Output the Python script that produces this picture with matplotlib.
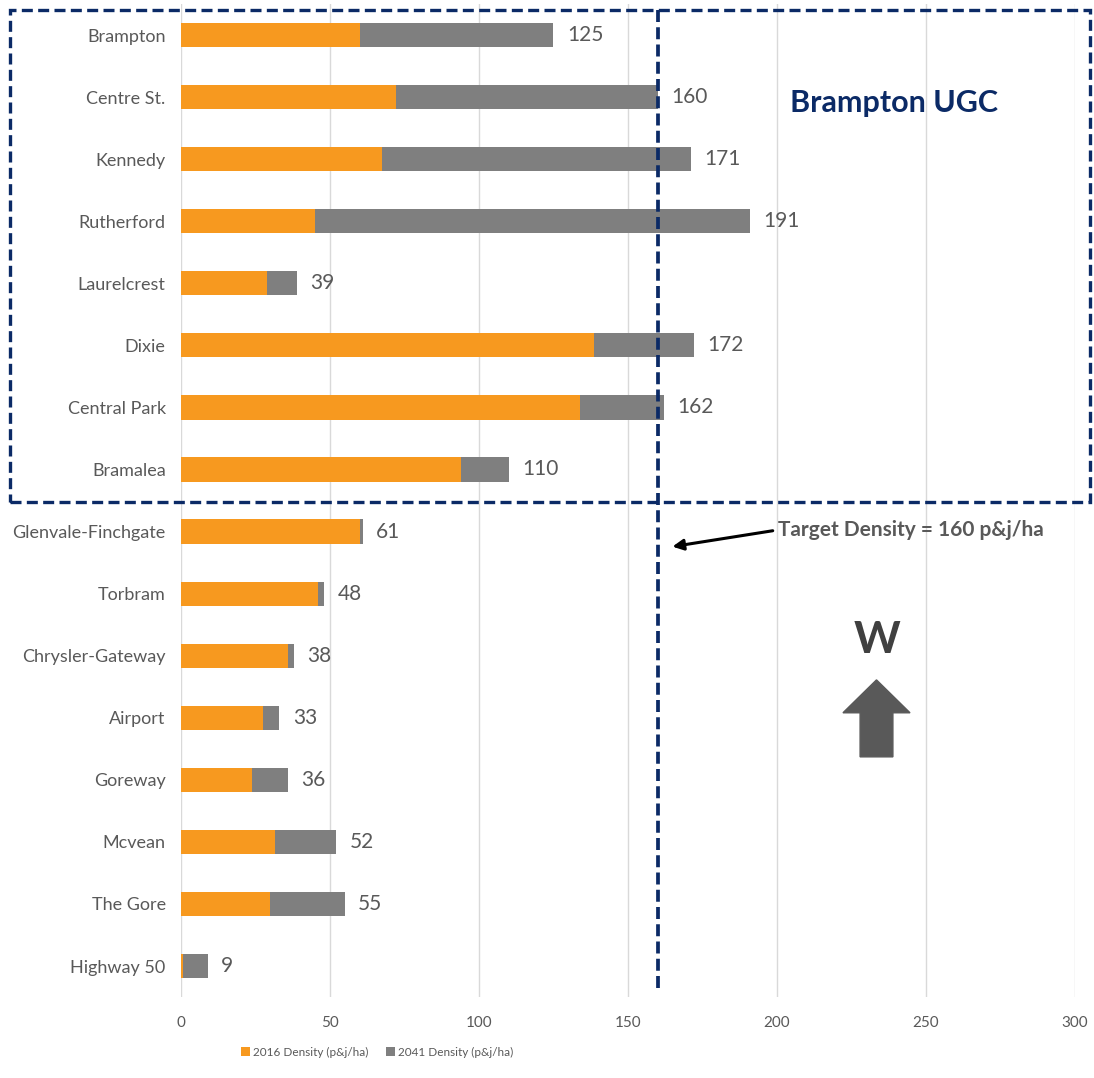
import matplotlib
matplotlib.use("Agg")
import matplotlib.pyplot as plt
import matplotlib.patches as mpatches

# station densities (people & jobs per hectare)
stations = ["Brampton", "Centre St.", "Kennedy", "Rutherford", "Laurelcrest", "Dixie",
            "Central Park", "Bramalea", "Glenvale-Finchgate", "Torbram", "Chrysler-Gateway",
            "Airport", "Goreway", "Mcvean", "The Gore", "Highway 50"]
density_2016 = [60, 72, 67.5, 45, 29, 138.5, 134, 94, 60, 46, 36, 27.5, 24, 31.5, 30, 0.7]
density_2041 = [125, 160, 171, 191, 39, 172, 162, 110, 61, 48, 38, 33, 36, 52, 55, 9]
target = 160

ORANGE = "#F7991F"
GREY = "#7F7F7F"
NAVY = "#0B2A66"
TXT = "#595959"

plt.rcParams["font.family"] = ["Lato", "DejaVu Sans"]

fig = plt.figure(figsize=(10.94, 10.78), dpi=100)
ax = fig.add_axes([0.1654, 0.0751, 0.8172, 0.9212])

ypos = list(range(len(stations)))
ax.barh(ypos, density_2041, height=0.39, color=GREY, zorder=2, label="2041 Density (p&j/ha)")
ax.barh(ypos, density_2016, height=0.39, color=ORANGE, zorder=3, label="2016 Density (p&j/ha)")

for y, v in zip(ypos, density_2041):
    ax.text(v + 4.5, y, f"{v:g}", va="center", ha="left", fontsize=15, color=TXT)

ax.set_xlim(0, 300)
ax.set_ylim(len(stations) - 0.5, -0.5)
ax.set_xticks(range(0, 301, 50))
ax.set_yticks(ypos)
ax.set_yticklabels(stations)
ax.tick_params(axis="both", length=0, colors=TXT)
ax.tick_params(axis="y", pad=11, labelsize=13)
ax.tick_params(axis="x", pad=14, labelsize=11)
ax.grid(axis="x", color="#D9D9D9", linewidth=1, zorder=0)
for s in ax.spines.values():
    s.set_visible(False)

# target density line
ax.axvline(target, ymin=0.009, ymax=0.994, color=NAVY, linewidth=2.7,
           dashes=(3.2, 1.4), zorder=5, clip_on=False)

# UGC box
box = mpatches.Rectangle((0.0091, 0.5343), 0.987, 0.4564, transform=fig.transFigure,
                         fill=False, edgecolor=NAVY, linewidth=2.4, linestyle=(0, (3.3, 1.6)),
                         clip_on=False, zorder=6)
fig.patches.append(box)

ax.text(204.5, 1.1, "Brampton UGC", fontsize=22, fontweight="bold", color=NAVY,
        va="center", ha="left")

ax.annotate("", xy=(164, 8.25), xytext=(199.5, 7.98),
            arrowprops=dict(arrowstyle="-|>", color="black", lw=2.2, mutation_scale=16))
ax.text(200.5, 7.98, "Target Density = 160 p&j/ha", fontsize=15, fontweight="bold",
        color=TXT, va="center", ha="left")

# direction arrow
ax.text(233.5, 9.75, "W", fontsize=32, fontweight="bold", color="#404040",
        ha="center", va="center")
ax.add_patch(mpatches.FancyArrow(233.4, 11.63, 0, -1.24, width=11, head_width=22.5,
                                 head_length=0.53, length_includes_head=True,
                                 color="#595959", zorder=4))

h, l = ax.get_legend_handles_labels()
fig.legend(h[::-1], l[::-1], loc="center", bbox_to_anchor=(0.345, 0.024), ncol=2,
           frameon=False, fontsize=8.5, labelcolor=TXT, handlelength=0.7,
           handleheight=0.7, columnspacing=1.5, handletextpad=0.3)

fig.savefig("out.png", dpi=100)
